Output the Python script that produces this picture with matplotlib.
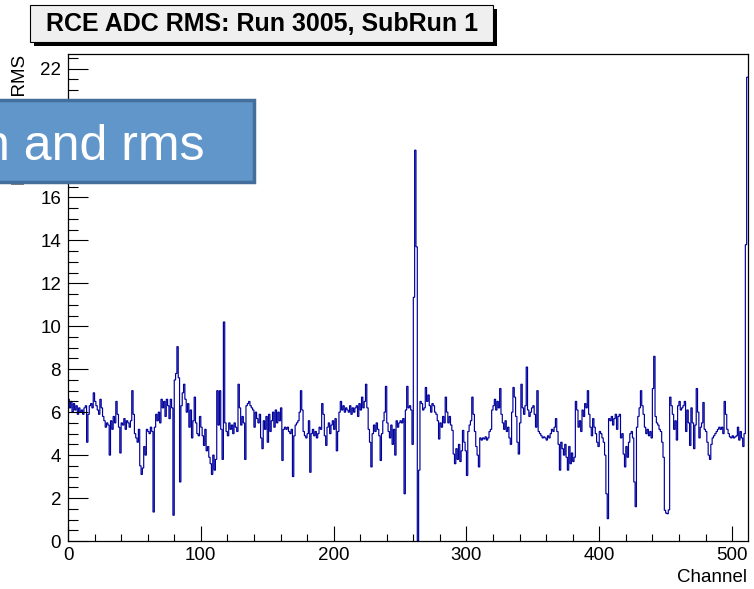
import numpy as np
import matplotlib
matplotlib.use("Agg")
import matplotlib.pyplot as plt
from matplotlib.patches import Rectangle
from matplotlib.ticker import MultipleLocator

plt.rcParams['font.family'] = ['Liberation Sans', 'DejaVu Sans']

# ---- data -------------------------------------------------------------
title = "RCE ADC RMS: Run 3005, SubRun 1"
x_label = "Channel"
y_label = "RCE ADC RMS"
overlay_text = "n and rms"

n_channels = 512
x_ticks = [0, 100, 200, 300, 400, 500]
y_ticks = [0, 2, 4, 6, 8, 10, 12, 14, 16, 18, 20, 22]

# RMS per channel (channels 0..511)
rms = [
    # 0-15
    6.6, 6.2, 6.5, 6.0, 6.4, 6.1, 6.3, 5.9, 6.2, 6.0, 6.1, 5.9, 6.2, 6.3, 4.6, 5.9,
    # 16-31
    6.3, 6.4, 6.2, 6.9, 6.5, 6.3, 6.1, 5.9, 6.6, 6.2, 5.8, 5.6, 5.3, 5.5, 5.4, 4.0,
    # 32-47
    5.6, 5.2, 5.8, 5.5, 6.5, 5.9, 5.3, 4.1, 5.5, 5.4, 5.7, 5.2, 5.6, 5.5, 5.3, 5.6,
    # 48-63
    7.0, 5.9, 5.0, 4.8, 4.6, 5.2, 3.5, 3.1, 3.4, 4.4, 4.0, 5.2, 5.1, 5.0, 5.3, 5.1,
    # 64-79
    1.35, 5.3, 5.9, 5.6, 6.0, 5.5, 6.6, 6.2, 6.5, 5.8, 6.6, 6.3, 5.7, 6.6, 6.2, 1.2,
    # 80-95
    7.5, 7.8, 9.05, 7.6, 2.75, 6.3, 6.9, 7.3, 6.6, 6.0, 6.4, 5.3, 6.1, 4.8, 5.6, 6.7,
    # 96-111
    5.5, 5.0, 4.9, 5.8, 5.3, 4.9, 4.45, 5.2, 4.2, 4.4, 3.9, 3.6, 3.1, 4.0, 3.3, 3.8,
    # 112-127
    7.0, 5.4, 7.0, 5.2, 3.8, 10.2, 5.5, 5.1, 4.9, 5.5, 5.2, 5.4, 5.0, 5.5, 5.3, 5.1,
    # 128-143
    7.3, 6.2, 5.4, 5.8, 5.5, 3.8, 6.3, 6.4, 6.5, 6.3, 6.2, 6.1, 5.3, 6.0, 5.7, 5.5,
    # 144-159
    5.9, 4.8, 4.3, 5.6, 5.2, 5.8, 4.6, 5.9, 5.1, 5.6, 6.0, 5.3, 6.1, 5.5, 6.0, 5.6,
    # 160-175
    6.2, 3.75, 5.2, 5.3, 5.2, 5.3, 5.1, 5.0, 5.2, 3.0, 4.9, 5.4, 5.5, 5.6, 6.0, 7.0,
    # 176-191
    6.1, 5.1, 4.9, 4.8, 5.0, 5.6, 3.2, 5.0, 5.2, 4.9, 5.1, 4.8, 5.0, 5.3, 5.2, 6.4,
    # 192-207
    5.9, 4.9, 4.45, 5.3, 5.5, 5.0, 5.4, 5.6, 5.2, 5.7, 4.2, 5.1, 6.0, 6.5, 6.1, 6.3,
    # 208-223
    6.0, 6.2, 6.1, 6.0, 6.3, 5.9, 6.2, 6.0, 6.2, 6.3, 5.8, 6.4, 6.1, 6.7, 6.2, 6.5,
    # 224-239
    7.3, 6.2, 5.2, 4.6, 3.45, 5.0, 5.4, 5.1, 5.5, 5.2, 4.9, 3.75, 5.0, 5.6, 6.0, 7.2,
    # 240-255
    5.5, 5.1, 4.8, 5.4, 4.5, 5.2, 4.0, 5.6, 5.3, 5.5, 5.6, 5.5, 5.7, 2.2, 6.1, 7.2,
    # 256-271
    6.2, 6.3, 6.1, 4.5, 11.35, 18.2, 13.7, 0.0, 3.3, 6.5, 6.4, 6.1, 6.2, 7.15, 6.5, 6.8,
    # 272-287
    6.3, 6.0, 6.4, 6.3, 6.0, 5.9, 5.6, 4.75, 5.5, 5.3, 5.8, 5.5, 6.7, 6.0, 5.5, 5.8,
    # 288-303
    5.4, 5.15, 4.05, 3.6, 4.3, 3.8, 4.5, 3.7, 4.2, 5.15, 4.6, 4.2, 3.05, 5.1, 5.4, 5.6,
    # 304-319
    6.7, 5.9, 5.1, 4.4, 4.0, 3.45, 4.8, 4.7, 4.8, 4.75, 4.85, 4.7, 4.8, 5.1, 5.2, 6.1,
    # 320-335
    6.3, 6.6, 6.1, 6.5, 6.2, 7.1, 5.9, 5.5, 5.2, 5.6, 5.1, 5.3, 4.8, 4.5, 6.0, 7.15,
    # 336-351
    6.7, 5.8, 4.6, 4.05, 5.5, 7.3, 6.2, 5.9, 6.3, 8.1, 6.1, 5.8, 6.0, 6.2, 6.3, 5.9,
    # 352-367
    5.3, 7.0, 5.1, 5.0, 4.9, 4.8, 4.85, 4.8, 4.7, 4.9, 4.8, 5.0, 5.2, 5.1, 5.3, 5.7,
    # 368-383
    5.1, 4.5, 3.3, 4.6, 4.3, 4.0, 4.5, 3.9, 3.3, 4.4, 3.6, 4.1, 3.7, 3.9, 6.5, 6.1,
    # 384-399
    5.3, 5.6, 5.1, 6.1, 5.8, 6.4, 6.2, 7.0, 5.9, 5.3, 4.9, 5.7, 5.3, 5.0, 4.6, 4.4,
    # 400-415
    5.1, 5.0, 4.8, 4.6, 4.0, 2.2, 1.04, 5.7, 5.6, 5.8, 5.4, 5.7, 5.9, 5.2, 5.8, 5.9,
    # 416-431
    4.8, 5.0, 4.05, 3.45, 4.4, 3.9, 4.6, 5.0, 5.1, 4.8, 2.75, 1.6, 5.3, 5.8, 6.2, 7.0,
    # 432-447
    6.3, 5.9, 5.3, 5.0, 5.2, 4.9, 5.1, 4.8, 7.1, 8.6, 5.8, 5.5, 5.4, 5.2, 5.1, 4.6,
    # 448-463
    3.9, 1.43, 1.3, 1.27, 1.45, 6.7, 6.3, 5.9, 5.2, 5.6, 4.7, 6.3, 6.5, 6.1, 6.2, 6.3,
    # 464-479
    6.5, 5.1, 6.1, 5.5, 4.45, 6.2, 5.5, 4.3, 5.4, 7.1, 6.0, 4.8, 5.3, 5.5, 6.45, 5.2,
    # 480-495
    5.1, 4.6, 4.0, 3.8, 4.5, 4.8, 4.9, 5.0, 5.1, 5.2, 5.3, 5.2, 5.3, 5.0, 6.5, 5.9,
    # 496-511
    5.2, 5.0, 4.85, 4.8, 4.9, 4.8, 4.85, 4.9, 5.3, 4.7, 5.1, 4.8, 4.4, 5.0, 13.8, 21.6,
]

# ---- figure -------------------------------------------------------------
W, H = 754, 589
fig = plt.figure(figsize=(W / 100, H / 100), dpi=100)
fig.patch.set_facecolor('white')

def px_box(x0, y0, x1, y1):
    """Convert a pixel box (origin top-left) to figure fractions."""
    return [x0 / W, 1 - y1 / H, (x1 - x0) / W, (y1 - y0) / H]

ax = fig.add_axes(px_box(68, 54, 748, 541))

edges = np.arange(n_channels + 1)
ax.stairs(rms, edges, color='#00009c', linewidth=0.85, baseline=None)

ymax = max(rms) * 1.05
ax.set_xlim(0, n_channels)
ax.set_ylim(0, ymax)

ax.set_xticks(x_ticks)
ax.set_yticks(y_ticks)
ax.xaxis.set_minor_locator(MultipleLocator(20))
ax.yaxis.set_minor_locator(MultipleLocator(0.5))

ax.tick_params(axis='both', which='both', direction='in', top=False, right=False,
               labelsize=13.5, color='black')
ax.tick_params(axis='y', which='major', length=14.4, width=0.8, pad=5)
ax.tick_params(axis='y', which='minor', length=7.2, width=0.8)
ax.tick_params(axis='x', which='major', length=10.5, width=0.8, pad=4)
ax.tick_params(axis='x', which='minor', length=5.3, width=0.8)
for sp in ax.spines.values():
    sp.set_linewidth(0.9)
    sp.set_color('black')

# axis titles (ROOT style: aligned to the axis end)
fig.text(747 / W, 1 - 577 / H, x_label, ha='right', va='center', fontsize=13.5)
fig.text(21 / W, 1 - 55 / H, y_label, ha='center', va='top', rotation=90, fontsize=13.5)

# title box with drop shadow
fig.add_artist(Rectangle((34 / W, 1 - 46 / H), 463 / W, 37 / H,
                         transform=fig.transFigure, facecolor='black',
                         edgecolor='none', zorder=5))
fig.add_artist(Rectangle((30 / W, 1 - 42 / H), 463 / W, 37 / H,
                         transform=fig.transFigure, facecolor='#efefef',
                         edgecolor='black', linewidth=0.8, zorder=6))
fig.text(262 / W, 1 - 24 / H, title, ha='center', va='center',
         fontsize=18, fontweight='bold', zorder=7)

# blue callout banner
fig.add_artist(Rectangle((-6 / W, 1 - 182 / H), 260 / W, 82 / H,
                         transform=fig.transFigure, facecolor='#6096c9',
                         edgecolor='#446f9c', linewidth=2.5, zorder=8))
fig.text(205 / W, 1 - 160 / H, overlay_text, ha='right', va='baseline',
         fontsize=36, color='white', zorder=9)

fig.savefig('out.png', dpi=100)
